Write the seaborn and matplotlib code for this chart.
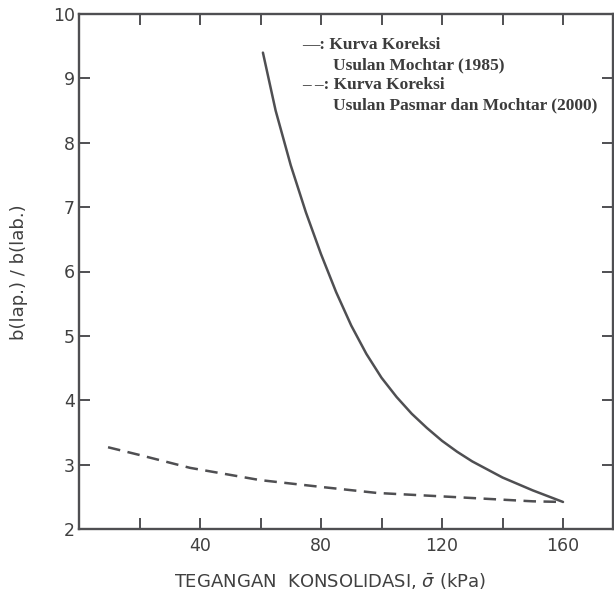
import matplotlib
matplotlib.use("Agg")
import matplotlib.pyplot as plt
import seaborn as sns
import pandas as pd
from matplotlib.ticker import FixedLocator

# Koreksi curves: ratio b(lap.)/b(lab.) against consolidation stress (kPa)
mochtar_1985_stress = [60.8, 65, 70, 75, 80, 85, 90, 95, 100, 105, 110, 115, 120, 125,
                       130, 140, 150, 160]
mochtar_1985_ratio = [9.40, 8.50, 7.65, 6.92, 6.27, 5.68, 5.16, 4.72, 4.35, 4.05, 3.79,
                      3.57, 3.37, 3.20, 3.05, 2.80, 2.60, 2.42]

pasmar_2000_stress = [9.6, 20.0, 36.7, 59.8, 80.7, 98.5, 122.6, 150.0, 160.0]
pasmar_2000_ratio = [3.27, 3.15, 2.95, 2.76, 2.65, 2.56, 2.50, 2.43, 2.42]

x_major = [40, 80, 120, 160]
x_minor = [20, 60, 100, 140]
y_ticks = [2, 3, 4, 5, 6, 7, 8, 9, 10]

legend_lines = [
    "\u2014: Kurva Koreksi",
    "Usulan Mochtar (1985)",
    "\u2013 \u2013: Kurva Koreksi",
    "Usulan Pasmar dan Mochtar (2000)",
]

sns.set_style("ticks")
plt.rcParams["font.family"] = ["DejaVu Sans"]

ink = "#4f4f52"
W, H = 614, 602
fig = plt.figure(figsize=(W / 100, H / 100), dpi=100)
x0, x1, y0, y1 = 79, 613, 529, 14
ax = fig.add_axes([x0 / W, (H - y0) / H, (x1 - x0) / W, (y0 - y1) / H])

df_a = pd.DataFrame({"stress": mochtar_1985_stress, "ratio": mochtar_1985_ratio})
df_b = pd.DataFrame({"stress": pasmar_2000_stress, "ratio": pasmar_2000_ratio})

sns.lineplot(data=df_a, x="stress", y="ratio", ax=ax, color=ink, lw=1.8,
             sort=False, estimator=None)
sns.lineplot(data=df_b, x="stress", y="ratio", ax=ax, color=ink, lw=1.8,
             sort=False, estimator=None, dashes=False, linestyle=(0, (5.0, 3.0)))

ax.set_xlim(0, (x1 - x0) / 3.025)
ax.set_ylim(2, 10)

ax.xaxis.set_major_locator(FixedLocator(x_major))
ax.xaxis.set_minor_locator(FixedLocator(x_minor))
ax.yaxis.set_major_locator(FixedLocator(y_ticks))
ax.set_xticklabels([str(v) for v in x_major])
ax.set_yticklabels([str(v) for v in y_ticks])

ax.tick_params(which="both", direction="in", length=8, width=1.4, color=ink,
               top=True, right=True, labelsize=12.5, labelcolor="#404040", pad=6)
ax.tick_params(axis="y", pad=3)

for s in ax.spines.values():
    s.set_linewidth(1.7)
    s.set_color(ink)

ax.set_xlabel(r"TEGANGAN  KONSOLIDASI, $\bar{\sigma}$ (kPa)", fontsize=13,
              color="#404040")
ax.xaxis.set_label_coords((330 - x0) / (x1 - x0), -0.082)
ax.set_ylabel("b(lap.) / b(lab.)", fontsize=13, color="#404040")
ax.yaxis.set_label_coords(-(x0 - 28) / (x1 - x0), (529 - 272) / 515)

legend_pos = [(302, 49), (333, 69), (302, 89), (333, 109)]
for (px, py), txt in zip(legend_pos, legend_lines):
    fig.text(px / W, 1 - py / H, txt, family="Liberation Serif", weight="bold",
             fontsize=12.5, color="#3c3c3c", va="baseline", ha="left")

fig.savefig("out.png", dpi=100, facecolor="white")
